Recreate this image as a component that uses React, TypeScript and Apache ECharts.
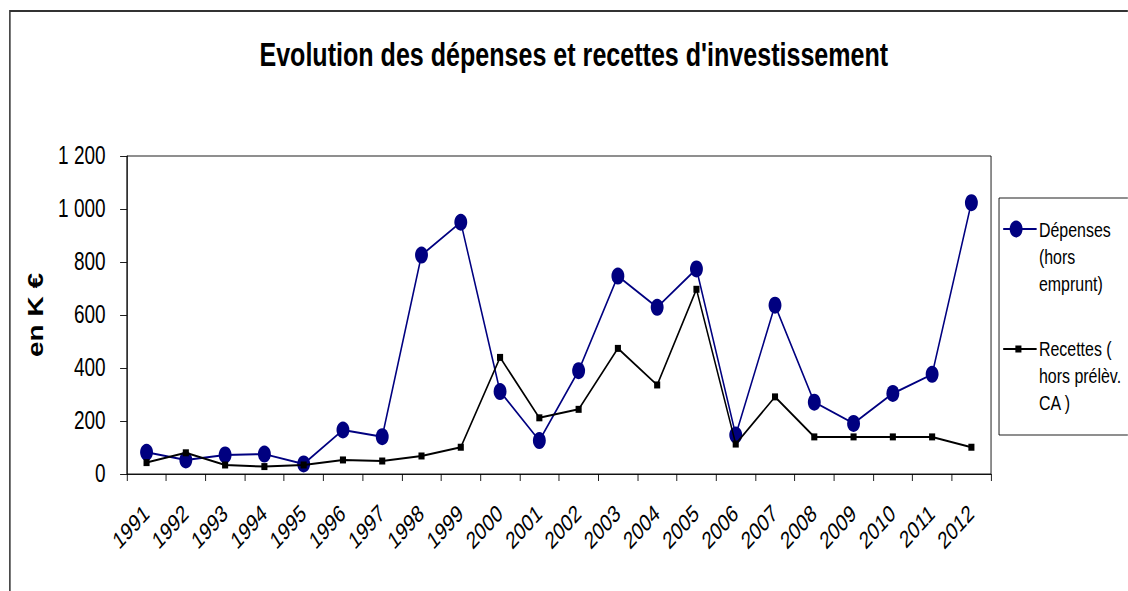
import React, { useEffect, useRef } from "react";
import * as echarts from "echarts";

const years = ["1991","1992","1993","1994","1995","1996","1997","1998","1999","2000","2001","2002","2003","2004","2005","2006","2007","2008","2009","2010","2011","2012"];
const depenses = [82, 53, 72, 75, 38, 166, 141, 826, 950, 311, 126, 390, 747, 629, 774, 147, 637, 271, 191, 304, 376, 1024];
const recettes = [43, 80, 34, 28, 34, 53, 49, 68, 101, 440, 212, 244, 474, 336, 697, 113, 291, 140, 140, 140, 140, 101];
const titleText = "Evolution des dépenses et recettes d'investissement";
const yName = "en K €";
const legendDep = "Dépenses\n(hors\nemprunt)";
const legendRec = "Recettes (\nhors prélèv.\nCA )";

const SX = 0.76;
const W = Math.round(1128 / SX);
const H = 591;
const FONT = "'Liberation Sans', Arial, sans-serif";
const BLUE = "#000080";

export default function App() {
  const ref = useRef<HTMLDivElement>(null);
  useEffect(() => {
    document.body.style.margin = "0";
    const chart = echarts.init(ref.current!, null, { renderer: "svg", width: W, height: H });
    const fmt = (v: number) => (v >= 1000 ? `${Math.floor(v / 1000)} ${String(v % 1000).padStart(3, "0")}` : String(v));
    chart.setOption({
      animation: false,
      backgroundColor: "#fff",
      textStyle: { fontFamily: FONT },
      title: {
        text: titleText,
        left: 755,
        textAlign: "center",
        top: 38,
        padding: 0,
        textStyle: { fontSize: 33, fontWeight: "bold", color: "#000", fontFamily: FONT },
      },
      grid: {
        left: 167, right: W - 1304, top: 156, bottom: H - 474,
        show: true, borderColor: "#000", borderWidth: 1, backgroundColor: "transparent",
      },
      xAxis: {
        type: "category",
        data: years,
        boundaryGap: true,
        axisLine: { lineStyle: { color: "#000", width: 1 } },
        axisTick: { show: true, length: 7, alignWithLabel: false, lineStyle: { color: "#000" } },
        axisLabel: { rotate: 40, margin: 36, fontSize: 24, color: "#000", fontFamily: FONT, interval: 0 },
        splitLine: { show: false },
      },
      yAxis: {
        type: "value",
        min: 0, max: 1200, interval: 200,
        name: yName,
        nameLocation: "middle",
        nameRotate: 90,
        nameGap: 106,
        nameTextStyle: { fontSize: 28, fontWeight: "bold", color: "#000", fontFamily: FONT },
        axisLine: { show: true, lineStyle: { color: "#000", width: 1 } },
        axisTick: { show: true, length: 9, lineStyle: { color: "#000" } },
        axisLabel: { fontSize: 25, color: "#000", margin: 28, fontFamily: FONT, formatter: fmt },
        splitLine: { show: false },
      },
      series: [
        {
          name: "Dépenses (hors emprunt)",
          type: "line",
          data: depenses,
          symbol: "circle",
          symbolSize: 17,
          itemStyle: { color: BLUE },
          lineStyle: { color: BLUE, width: 2 },
          z: 2,
        },
        {
          name: "Recettes ( hors prélèv. CA )",
          type: "line",
          data: recettes,
          symbol: "rect",
          symbolSize: [8, 7],
          itemStyle: { color: "#000" },
          lineStyle: { color: "#000", width: 2 },
          z: 3,
        },
      ],
      graphic: [
        { type: "polyline", shape: { points: [[13, H + 5], [13, 11], [W + 5, 11]] }, style: { stroke: "#333", lineWidth: 2, fill: null } },
        { type: "rect", shape: { x: 1314.5, y: 198, width: 400, height: 237 }, style: { stroke: "#000", lineWidth: 1, fill: "#fff" } },
        { type: "line", shape: { x1: 1320, y1: 229, x2: 1364, y2: 229 }, style: { stroke: BLUE, lineWidth: 2 } },
        { type: "circle", shape: { cx: 1337, cy: 229, r: 8.5 }, style: { fill: BLUE } },
        { type: "text", x: 1367, y: 216, style: { text: legendDep, font: `21px ${FONT}`, lineHeight: 27, fill: "#000", verticalAlign: "top" } },
        { type: "line", shape: { x1: 1320, y1: 349, x2: 1364, y2: 349 }, style: { stroke: "#000", lineWidth: 2 } },
        { type: "rect", shape: { x: 1336, y: 345.5, width: 8, height: 7 }, style: { fill: "#000" } },
        { type: "text", x: 1367, y: 335, style: { text: legendRec, font: `21px ${FONT}`, lineHeight: 27, fill: "#000", verticalAlign: "top" } },
      ],
    });
    return () => chart.dispose();
  }, []);
  return (
    <div style={{ width: 1128, height: 591, overflow: "hidden", position: "relative" }}>
      <div
        ref={ref}
        style={{ width: W, height: H, transform: `scaleX(${SX})`, transformOrigin: "0 0", position: "absolute", left: 0, top: 0 }}
      />
    </div>
  );
}
